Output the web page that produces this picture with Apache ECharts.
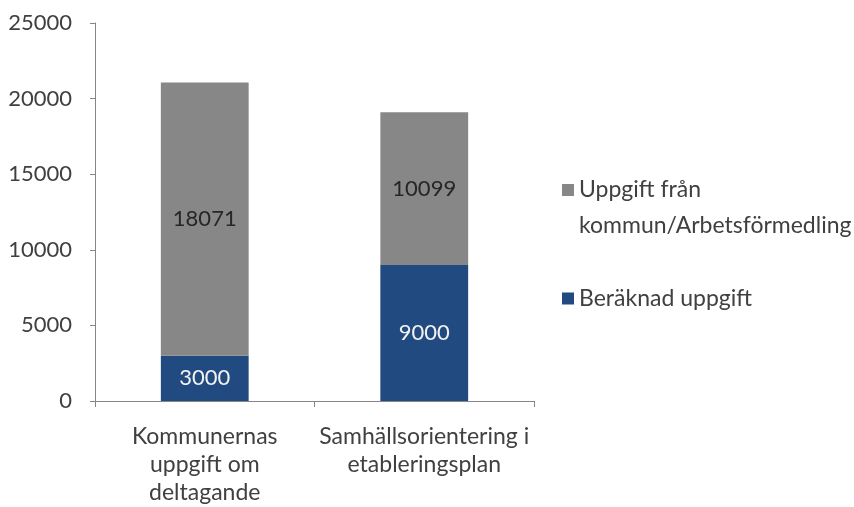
<!DOCTYPE html>
<html><head><meta charset="utf-8">
<script src="https://cdn.jsdelivr.net/npm/echarts@6/dist/echarts.min.js"></script>
<style>html,body{margin:0;padding:0;background:#fff}#c{width:854px;height:507px}</style>
</head><body><div id="c"></div>
<script>
const categories = ['Kommunernas\nuppgift om\ndeltagande', 'Samhällsorientering i\netableringsplan'];
const beraknad = [3000, 9000];
const uppgiftFran = [18071, 10099];
const seriesNames = ['Beräknad uppgift', 'Uppgift från kommun/Arbetsförmedling'];
const yTicks = [0, 5000, 10000, 15000, 20000, 25000];

const FONT = 'Lato';
const chart = echarts.init(document.getElementById('c'));
chart.setOption({
  animation: false,
  textStyle: { fontFamily: FONT },
  grid: { left: 95, right: 320, top: 23, bottom: 104, containLabel: false },
  legend: [
    {
      orient: 'vertical', left: 557, top: 167,
      data: [{ name: seriesNames[1], icon: 'path://M0,0L12,0L12,12L0,12Z M0,48L0.01,48' }],
      itemWidth: 12, itemHeight: 48, itemGap: 0,
      formatter: n => n.replace(' kommun', '\nkommun'),
      textStyle: { fontFamily: FONT, fontSize: 23, color: '#404040', lineHeight: 36 }
    },
    {
      orient: 'vertical', left: 557, top: 282,
      data: [{ name: seriesNames[0], icon: 'rect' }],
      itemWidth: 12, itemHeight: 12,
      textStyle: { fontFamily: FONT, fontSize: 23, color: '#404040' }
    }
  ],
  xAxis: {
    type: 'category', data: categories,
    axisLine: { lineStyle: { color: '#868686', width: 1 } },
    axisTick: { show: true, length: 6, lineStyle: { color: '#868686' } },
    axisLabel: { fontFamily: FONT, fontSize: 23, color: '#404040', lineHeight: 28, margin: 22, interval: 0 }
  },
  yAxis: {
    type: 'value', min: 0, max: 25000, interval: 5000,
    axisLine: { show: true, lineStyle: { color: '#868686', width: 1 } },
    axisTick: { show: true, length: 5, lineStyle: { color: '#868686' } },
    splitLine: { show: false },
    axisLabel: { fontFamily: FONT, fontSize: 22, color: '#404040', margin: 23,
      formatter: v => yTicks.includes(v) ? String(v) : '' }
  },
  series: [
    {
      name: seriesNames[0], type: 'bar', stack: 's', data: beraknad, barWidth: '40%',
      itemStyle: { color: '#214b80' },
      label: { show: true, position: 'inside', fontFamily: FONT, fontSize: 22, color: '#f2f2f2' }
    },
    {
      name: seriesNames[1], type: 'bar', stack: 's', data: uppgiftFran, barWidth: '40%',
      itemStyle: { color: '#878787' },
      label: { show: true, position: 'inside', fontFamily: FONT, fontSize: 22, color: '#262626' }
    }
  ]
});
</script></body></html>
